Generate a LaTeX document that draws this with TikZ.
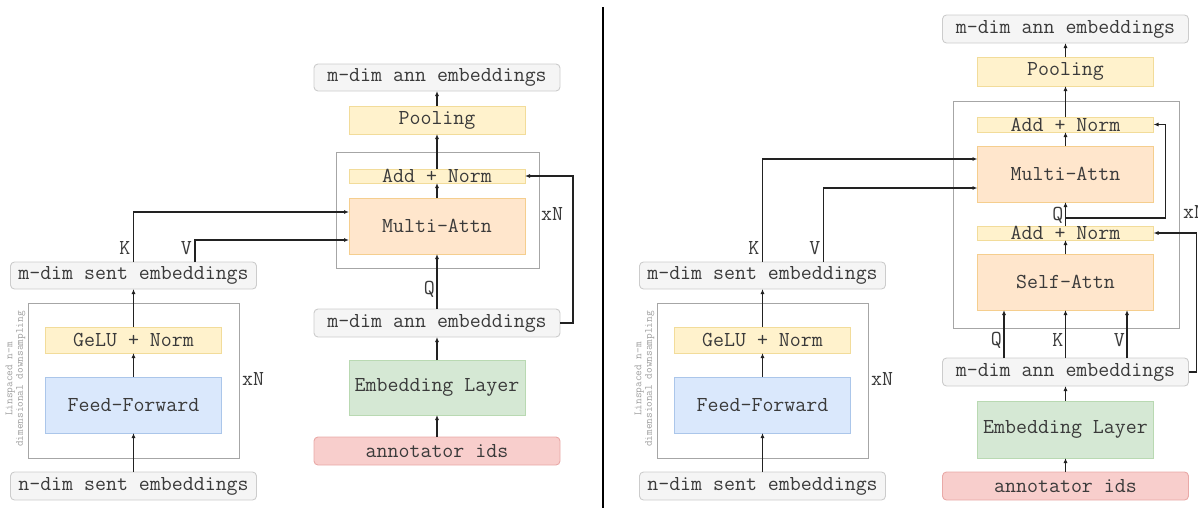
\documentclass[tikz,border=0pt]{standalone}
\usepackage{fontspec}
\usetikzlibrary{arrows.meta,calc}

\definecolor{txt}{HTML}{3A3A3A}
\definecolor{ln}{HTML}{222222}
\definecolor{grpline}{HTML}{A6A6A6}
\definecolor{grayfill}{HTML}{F5F5F5}
\definecolor{grayline}{HTML}{CCCCCC}
\definecolor{yelfill}{HTML}{FFF2CC}
\definecolor{yelline}{HTML}{F2DC9A}
\definecolor{orafill}{HTML}{FFE6CC}
\definecolor{oraline}{HTML}{F5CE8E}
\definecolor{blufill}{HTML}{DAE8FC}
\definecolor{bluline}{HTML}{ABC6EA}
\definecolor{grnfill}{HTML}{D5E8D4}
\definecolor{grnline}{HTML}{B9D9B2}
\definecolor{redfill}{HTML}{F8CECC}
\definecolor{redline}{HTML}{E9A9A7}

\tikzset{
  base/.style={inner sep=0pt, outer sep=0pt, text=txt,
    font=\ttfamily\fontsize{21.3}{22}\selectfont, line width=0.9pt},
  graybox/.style={base, rounded corners=4pt, fill=grayfill, draw=grayline},
  yelbox/.style={base, fill=yelfill, draw=yelline},
  orabox/.style={base, fill=orafill, draw=oraline},
  blubox/.style={base, fill=blufill, draw=bluline},
  grnbox/.style={base, fill=grnfill, draw=grnline},
  redbox/.style={base, rounded corners=4pt, fill=redfill, draw=redline},
  wide/.style={minimum width=246pt},
  narrow/.style={minimum width=176pt},
  grp/.style={draw=grpline, line width=0.9pt},
  lbl/.style={text=txt, inner sep=0pt, font=\ttfamily\fontsize{21.3}{22}\selectfont},
  side/.style={text=black!38, inner sep=0pt, align=center, rotate=90,
    font=\ttfamily\fontsize{11}{10.5}\selectfont},
  arr/.style={draw=ln, line width=1.2pt, -{Latex[length=5pt,width=4pt]}},
}

\begin{document}
\begin{tikzpicture}[x=1pt,y=-1pt]
\useasboundingbox (0,0) rectangle (1198,509);

% ---------------- left variant ----------------
% sentence branch
\draw[grp] (28,303) rectangle (239,458);
\node[graybox, wide, minimum height=28pt] (nsentL) at (133.5,486) {n-dim sent embeddings};
\node[blubox, narrow, minimum height=56pt] (ffL) at (133.5,405) {Feed-Forward};
\node[yelbox, narrow, minimum height=26pt] (geluL) at (133.5,340) {GeLU + Norm};
\node[graybox, wide, minimum height=27pt] (sentL) at (133.5,275.5) {m-dim sent embeddings};
\node[side] (downL) at (15.5,379) {Linspaced n-m\\dimensional downsampling};
\node[lbl] (xnL1) at (253,379) {xN};

% annotator branch
\draw[grp] (336,152) rectangle (539,268);
\node[redbox, wide, minimum height=28pt] (idsL) at (437,451) {annotator ids};
\node[grnbox, narrow, minimum height=55pt] (embL) at (437,387.5) {Embedding Layer};
\node[graybox, wide, minimum height=28pt] (annMidL) at (437,323) {m-dim ann embeddings};
\node[orabox, narrow, minimum height=56pt] (mattL) at (437,226) {Multi-Attn};
\node[yelbox, narrow, minimum height=14pt] (addL) at (437,176) {Add + Norm};
\node[yelbox, narrow, minimum height=28pt] (poolL) at (437,120) {Pooling};
\node[graybox, wide, minimum height=27pt] (annTopL) at (437,77.5) {m-dim ann embeddings};
\node[lbl] (xnL2) at (552,214) {xN};

\draw[arr] (nsentL.north) -- (ffL.south);
\draw[arr] (ffL.north) -- (geluL.south);
\draw[arr] (geluL.north) -- (sentL.south);
\coordinate (kL) at (sentL.north);
\coordinate (vL) at ($(sentL.north)+(61.5,0)$);
\draw[arr] (kL) |- ($(mattL.north west)!0.25!(mattL.south west)$);
\draw[arr] (vL) |- ($(mattL.north west)!0.75!(mattL.south west)$);
\node[lbl, anchor=east] (kLl) at ($(kL)+(-3,-14)$) {K};
\node[lbl, anchor=east] (vLl) at ($(vL)+(-3,-14)$) {V};

\draw[arr] (idsL.north) -- (embL.south);
\draw[arr] (embL.north) -- (annMidL.south);
\draw[arr] (annMidL.north) -- (mattL.south);
\node[lbl, anchor=east] (qL) at ($(annMidL.north)+(-2,-20)$) {Q};
\draw[arr] (mattL.north) -- (addL.south);
\draw[arr] (addL.north) -- (poolL.south);
\draw[arr] (poolL.north) -- (annTopL.south);
\draw[arr] (annMidL.east) -- ++(13,0) |- (addL.east);

% divider
\draw[line width=1.5pt, black] (603,7) -- (603,508);

% ---------------- right variant ----------------
% sentence branch
\draw[grp] (657,303) rectangle (868,458);
\node[graybox, wide, minimum height=28pt] (nsentR) at (762.5,486) {n-dim sent embeddings};
\node[blubox, narrow, minimum height=56pt] (ffR) at (762.5,405) {Feed-Forward};
\node[yelbox, narrow, minimum height=26pt] (geluR) at (762.5,340) {GeLU + Norm};
\node[graybox, wide, minimum height=27pt] (sentR) at (762.5,275.5) {m-dim sent embeddings};
\node[side] (downR) at (644.5,379) {Linspaced n-m\\dimensional downsampling};
\node[lbl] (xnR1) at (882,379) {xN};

% annotator branch
\draw[grp] (953,101) rectangle (1179,328);
\node[redbox, wide, minimum height=28pt] (idsR) at (1065.5,486) {annotator ids};
\node[grnbox, narrow, minimum height=57pt] (embR) at (1065.5,429.5) {Embedding Layer};
\node[graybox, wide, minimum height=28pt] (annMidR) at (1065.5,372) {m-dim ann embeddings};
\node[orabox, narrow, minimum height=56pt] (selfR) at (1065.5,282) {Self-Attn};
\node[yelbox, narrow, minimum height=14pt] (addR2) at (1065.5,233) {Add + Norm};
\node[orabox, narrow, minimum height=56pt] (mattR) at (1065.5,174) {Multi-Attn};
\node[yelbox, narrow, minimum height=15pt] (addR1) at (1065.5,124.5) {Add + Norm};
\node[yelbox, narrow, minimum height=29pt] (poolR) at (1065.5,71.5) {Pooling};
\node[graybox, wide, minimum height=28pt] (annTopR) at (1065.5,29) {m-dim ann embeddings};
\node[lbl, anchor=west] (xnR2) at (1183,212) {xN};

\draw[arr] (nsentR.north) -- (ffR.south);
\draw[arr] (ffR.north) -- (geluR.south);
\draw[arr] (geluR.north) -- (sentR.south);
\coordinate (kR) at (sentR.north);
\coordinate (vR) at ($(sentR.north)+(61,0)$);
\draw[arr] (kR) |- ($(mattR.north west)!0.232!(mattR.south west)$);
\draw[arr] (vR) |- ($(mattR.north west)!0.75!(mattR.south west)$);
\node[lbl, anchor=east] (kRl) at ($(kR)+(-3,-14)$) {K};
\node[lbl, anchor=east] (vRl) at ($(vR)+(-3,-14)$) {V};

\draw[arr] (idsR.north) -- (embR.south);
\draw[arr] (embR.north) -- (annMidR.south);
\coordinate (sqR) at ($(annMidR.north)+(-61.5,0)$);
\coordinate (skR) at (annMidR.north);
\coordinate (svR) at ($(annMidR.north)+(61.5,0)$);
\draw[arr] (sqR) -- (sqR |- selfR.south);
\draw[arr] (skR) -- (selfR.south);
\draw[arr] (svR) -- (svR |- selfR.south);
\node[lbl, anchor=east] (sqRl) at ($(sqR)+(-2,-18)$) {Q};
\node[lbl, anchor=east] (skRl) at ($(skR)+(-2,-18)$) {K};
\node[lbl, anchor=east] (svRl) at ($(svR)+(-2,-18)$) {V};
\draw[arr] (selfR.north) -- (addR2.south);
\draw[arr] (addR2.north) -- (mattR.south);
\coordinate (qbR) at ($(addR2.north)+(0,-8)$);
\node[lbl, anchor=east] (qR) at ($(addR2.north)+(-2,-11)$) {Q};
\draw[arr] (qbR) -- ++(100,0) |- (addR1.east);
\draw[arr] (mattR.north) -- (addR1.south);
\draw[arr] (addR1.north) -- (poolR.south);
\draw[arr] (poolR.north) -- (annTopR.south);
\draw[arr] (annMidR.east) -- ++(8,0) |- (addR2.east);
\end{tikzpicture}
\end{document}
